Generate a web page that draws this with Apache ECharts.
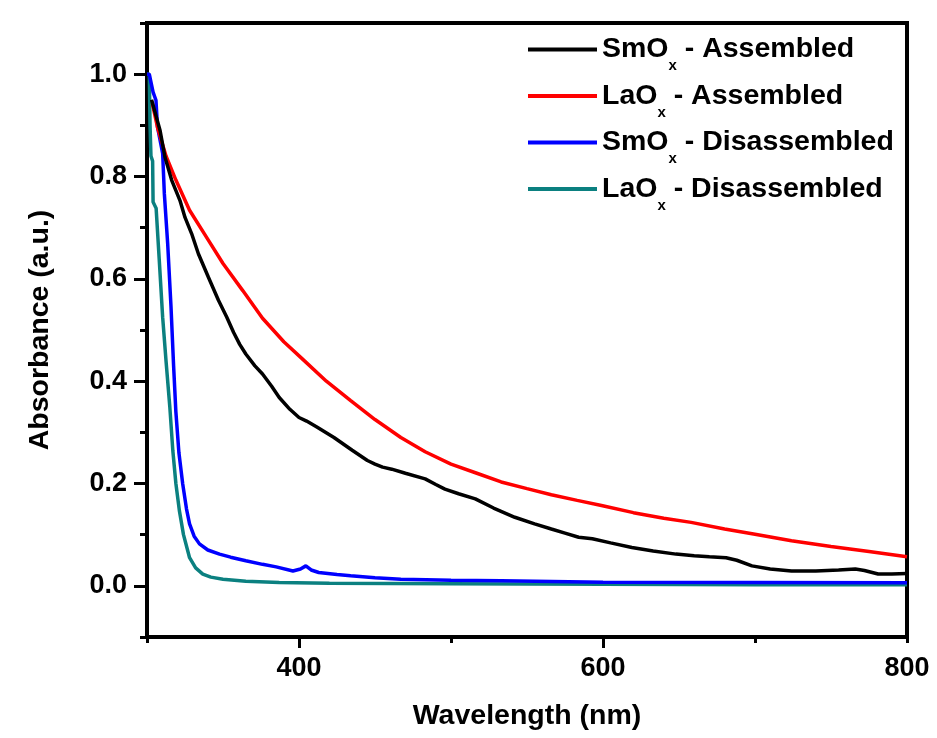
<!DOCTYPE html>
<html>
<head>
<meta charset="utf-8">
<script src="https://cdn.jsdelivr.net/npm/echarts@6/dist/echarts.min.js"></script>
<style>
html,body{margin:0;padding:0;background:#fff;}
#c{width:937px;height:738px;}
</style>
</head>
<body>
<div id="c"></div>
<script>
// ---- data: [wavelength (nm), absorbance (a.u.)] ----
var seriesNames = ['SmOx - Assembled', 'LaOx - Assembled', 'SmOx - Disassembled', 'LaOx - Disassembled'];
var seriesColors = ['#000000', '#ff0000', '#0000ff', '#0b8080'];

var smoxAssembled = [
  [303,0.95],[308.6,0.89],[311.8,0.838],[316.2,0.793],[321.7,0.753],[325,0.72],[329.4,0.688],[333.8,0.649],
  [340.4,0.603],[347,0.558],[352.5,0.525],[357,0.495],[361,0.472],[365,0.453],[371,0.43],[376,0.414],[382,0.39],
  [387,0.368],[394,0.345],[400,0.329],[405,0.322],[412,0.31],[423,0.29],[435,0.265],[445,0.245],
  [450,0.238],[455,0.232],[461,0.228],[470,0.22],[483,0.209],[490,0.198],[496,0.189],[505,0.18],
  [516,0.17],[528,0.152],[542,0.134],[555,0.121],[566,0.111],[575,0.103],[584,0.095],[593,0.092],
  [605,0.084],[619,0.075],[633,0.068],[648,0.062],[660,0.059],[670,0.057],[681,0.055],[688,0.05],
  [698,0.039],[710,0.033],[724,0.029],[740,0.029],[755,0.031],[766,0.033],[772,0.03],[781,0.023],
  [790,0.023],[800,0.024]
];
var laoxAssembled = [
  [303.5,0.943],[307,0.895],[312.5,0.84],[319,0.793],[328,0.734],[339,0.682],[350,0.63],[363,0.577],
  [376,0.523],[390,0.477],[402,0.444],[418,0.40],[434,0.362],[450,0.325],[467,0.29],
  [483,0.262],[500,0.238],[517,0.22],[533,0.203],[550,0.19],[566,0.178],[583,0.167],[599,0.157],
  [620,0.143],[640,0.132],[658,0.124],[680,0.111],[700,0.101],[724,0.088],[750,0.077],[775,0.067],
  [800,0.057]
];
var smoxDisassembled = [
  [300,1.0],[301.5,1.0],[304,0.965],[305.9,0.949],[306.9,0.897],[310.3,0.845],[311.4,0.767],[313.6,0.669],
  [315.8,0.545],[317.5,0.43],[319,0.34],[321,0.26],[323.5,0.199],[326,0.15],[328,0.121],[331,0.097],[334.5,0.082],
  [340,0.07],[347.7,0.062],[355,0.056],[365,0.049],[376,0.042],[385,0.037],[396,0.029],[401,0.033],
  [404.5,0.039],[408,0.031],[413,0.026],[425,0.022],[434,0.0196],[450,0.016],[467,0.013],[500,0.011],
  [533,0.0098],[600,0.0068],[700,0.0065],[800,0.006]
];
var laoxDisassembled = [
  [300,1.0],[301.5,1.0],[302,0.9],[302.6,0.84],[303.7,0.83],[304,0.75],[306,0.738],[308,0.64],
  [310.3,0.525],[312.5,0.44],[315,0.35],[317,0.264],[319,0.2],[321.3,0.147],[324,0.1],
  [328,0.055],[332,0.035],[336.7,0.023],[342,0.017],[350,0.013],[365,0.009],[387,0.0065],[420,0.005],
  [500,0.004],[600,0.003],[700,0.002],[800,0.002]
];
var xTickLabels = [400, 600, 800];
var yTickLabels = [0, 0.2, 0.4, 0.6, 0.8, 1.0];

var allData = [smoxAssembled, laoxAssembled, smoxDisassembled, laoxDisassembled];

var FONT = 'Liberation Sans, Arial, sans-serif';
var chart = echarts.init(document.getElementById('c'), null, {renderer: 'canvas'});

var legendRich = {
  a: {fontFamily: FONT, fontWeight: 'bold', fontSize: 28.5, color: '#000', lineHeight: 48, verticalAlign: 'middle'},
  b: {fontFamily: FONT, fontWeight: 'bold', fontSize: 15, color: '#000', lineHeight: 28, verticalAlign: 'bottom'}
};

var series = allData.map(function (d, i) {
  return {
    name: seriesNames[i],
    type: 'line',
    data: d,
    showSymbol: false,
    symbol: 'none',
    lineStyle: {color: seriesColors[i], width: 3.5},
    itemStyle: {color: seriesColors[i]},
    z: 10 - i,
    clip: true,
    animation: false
  };
});

var legends = seriesNames.map(function (n, i) {
  return {
    orient: 'vertical', left: 523, top: 30 + i * 46.5,
    itemWidth: 69, itemHeight: 4, icon: 'rect',
    selectedMode: false,
    data: [n],
    formatter: function (nm) {
      var p = nm.split('Ox');
      return '{a|' + p[0] + 'O}{b|x}{a|' + p[1] + '}';
    },
    textStyle: {rich: legendRich}
  };
});

chart.setOption({
  backgroundColor: '#ffffff',
  animation: false,
  grid: {left: 147, right: 30, top: 23, bottom: 101, show: true, borderColor: '#000', borderWidth: 4, backgroundColor: 'transparent', containLabel: false},
  legend: legends,
  xAxis: {
    type: 'value', min: 300, max: 800, interval: 200, position: 'bottom',
    name: 'Wavelength (nm)', nameLocation: 'middle', nameGap: 65,
    nameTextStyle: {fontFamily: FONT, fontWeight: 'bold', fontSize: 28.5, color: '#000'},
    axisLine: {show: true, onZero: false, lineStyle: {color: '#000', width: 4}},
    axisTick: {show: true, length: 6, lineStyle: {color: '#000', width: 3}},
    minorTick: {show: true, splitNumber: 2, length: 11, lineStyle: {color: '#000', width: 3}},
    axisLabel: {fontFamily: FONT, fontWeight: 'bold', fontSize: 27, color: '#000', margin: 18,
      customValues: xTickLabels,
      formatter: function (v) { return String(Math.round(v)); }},
    splitLine: {show: false}
  },
  yAxis: {
    type: 'value', min: -0.1, max: 1.1, interval: 0.2, position: 'left',
    name: 'Absorbance (a.u.)', nameLocation: 'middle', nameGap: 92,
    nameTextStyle: {fontFamily: FONT, fontWeight: 'bold', fontSize: 28.5, color: '#000'},
    axisLine: {show: true, onZero: false, lineStyle: {color: '#000', width: 4}},
    axisTick: {show: true, length: 7, lineStyle: {color: '#000', width: 3}},
    minorTick: {show: true, splitNumber: 2, length: 13, lineStyle: {color: '#000', width: 3}},
    axisLabel: {fontFamily: FONT, fontWeight: 'bold', fontSize: 27, color: '#000', margin: 20,
      customValues: yTickLabels,
      formatter: function (v) { return (Math.round(v * 10) / 10).toFixed(1); }},
    splitLine: {show: false}
  },
  series: series
});
</script>
</body>
</html>
